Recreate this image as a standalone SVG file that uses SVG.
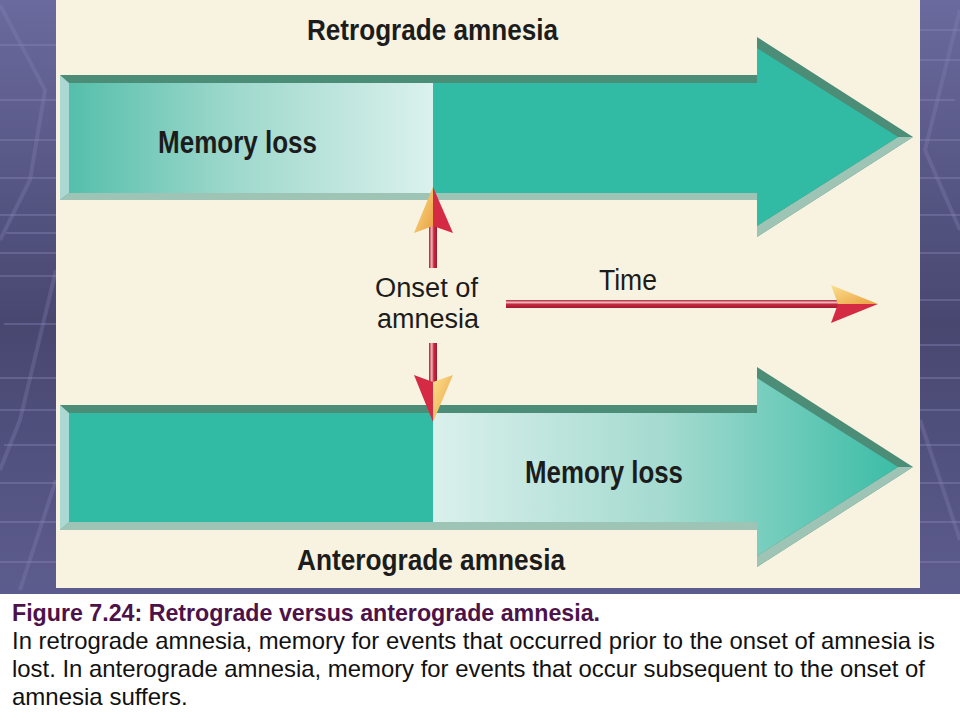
<svg xmlns="http://www.w3.org/2000/svg" width="960" height="720" viewBox="0 0 960 720">
  <defs>
    <style>
      .lbl { font-family: "Liberation Sans", Arial, sans-serif; fill: #1c1c1c; }
      .b { font-weight: bold; }
      .cap { font-family: "Liberation Sans", Arial, sans-serif; font-size: 24px; fill: #111; }
      .bevd { fill: #4b8d77; }
      .bevl { fill: #9ec4b5; }
      .bevs { fill: #acd8d4; }
      .teal { fill: #32bba4; }
      .pline { stroke: #8a89b8; stroke-width: 1.5; opacity: 0.5; }
      .dline { stroke: #8786b6; stroke-width: 4; opacity: 0.3; fill: none; }
    </style>
    <linearGradient id="bg" x1="0" y1="0" x2="0" y2="1">
      <stop offset="0" stop-color="#6b6a9e"/>
      <stop offset="0.45" stop-color="#474770"/>
      <stop offset="1" stop-color="#67669c"/>
    </linearGradient>
    <linearGradient id="fadeR" gradientUnits="userSpaceOnUse" x1="69" y1="0" x2="433" y2="0">
      <stop offset="0" stop-color="#55bfab"/>
      <stop offset="0.45" stop-color="#9ed8cc"/>
      <stop offset="1" stop-color="#dbf1ed"/>
    </linearGradient>
    <linearGradient id="fadeL" gradientUnits="userSpaceOnUse" x1="433" y1="0" x2="905" y2="0">
      <stop offset="0" stop-color="#daf0ec"/>
      <stop offset="0.5" stop-color="#a3dacf"/>
      <stop offset="1" stop-color="#38bca5"/>
    </linearGradient>
    <linearGradient id="shaftH" x1="0" y1="0" x2="0" y2="1">
      <stop offset="0" stop-color="#a81d32"/>
      <stop offset="0.3" stop-color="#f2b9bd"/>
      <stop offset="0.55" stop-color="#c9283f"/>
      <stop offset="1" stop-color="#9d1a2e"/>
    </linearGradient>
    <linearGradient id="shaftV" x1="0" y1="0" x2="1" y2="0">
      <stop offset="0" stop-color="#a81d32"/>
      <stop offset="0.35" stop-color="#f2b9bd"/>
      <stop offset="0.6" stop-color="#c9283f"/>
      <stop offset="1" stop-color="#9d1a2e"/>
    </linearGradient>
    <linearGradient id="yel" x1="0" y1="0" x2="1" y2="1">
      <stop offset="0" stop-color="#fbe08e"/>
      <stop offset="1" stop-color="#eaa040"/>
    </linearGradient>
  </defs>

  <!-- background -->
  <rect x="0" y="0" width="960" height="720" fill="url(#bg)"/>
  <g id="bg-lines">
    <line class="pline" x1="0" y1="45" x2="56" y2="45"/>
    <line class="pline" x1="0" y1="100" x2="56" y2="100"/>
    <line class="pline" x1="0" y1="140" x2="56" y2="140"/>
    <line class="pline" x1="0" y1="178" x2="56" y2="178"/>
    <line class="pline" x1="0" y1="215" x2="56" y2="215"/>
    <line class="pline" x1="6" y1="233" x2="56" y2="233"/>
    <line class="pline" x1="0" y1="253" x2="56" y2="253"/>
    <line class="pline" x1="0" y1="276" x2="56" y2="276"/>
    <line class="pline" x1="4" y1="324" x2="56" y2="324"/>
    <line class="pline" x1="0" y1="378" x2="56" y2="378"/>
    <line class="pline" x1="0" y1="410" x2="56" y2="410"/>
    <line class="pline" x1="4" y1="445" x2="56" y2="445"/>
    <line class="pline" x1="0" y1="483" x2="56" y2="483"/>
    <line class="pline" x1="0" y1="522" x2="56" y2="522"/>
    <line class="pline" x1="0" y1="562" x2="56" y2="562"/>
    <path class="dline" d="M0 5 L45 90 L30 180 L0 240"/>
    <path class="dline" d="M56 270 L20 420 L0 470"/>
    <path class="dline" d="M56 480 L20 590"/>
    <line class="pline" x1="920" y1="30" x2="960" y2="30"/>
    <line class="pline" x1="920" y1="60" x2="960" y2="60"/>
    <line class="pline" x1="920" y1="100" x2="955" y2="100"/>
    <line class="pline" x1="920" y1="140" x2="960" y2="140"/>
    <line class="pline" x1="920" y1="178" x2="960" y2="178"/>
    <line class="pline" x1="920" y1="215" x2="960" y2="215"/>
    <line class="pline" x1="920" y1="253" x2="960" y2="253"/>
    <line class="pline" x1="920" y1="300" x2="960" y2="300"/>
    <line class="pline" x1="920" y1="345" x2="960" y2="345"/>
    <line class="pline" x1="920" y1="378" x2="960" y2="378"/>
    <line class="pline" x1="920" y1="410" x2="960" y2="410"/>
    <line class="pline" x1="920" y1="445" x2="960" y2="445"/>
    <line class="pline" x1="920" y1="483" x2="960" y2="483"/>
    <line class="pline" x1="920" y1="522" x2="960" y2="522"/>
    <line class="pline" x1="920" y1="562" x2="960" y2="562"/>
    <path class="dline" d="M960 10 L925 150 L960 230"/>
    <path class="dline" d="M920 420 L960 540"/>
  </g>

  <!-- panel -->
  <rect x="56" y="0" width="864" height="588" fill="#f8f3e0"/>
  <!-- caption area -->
  <rect x="0" y="594" width="960" height="126" fill="#ffffff"/>

  <!-- top arrow -->
  <g id="retrograde-arrow">
    <polygon class="bevd" points="60,75 757,75 757,37 913,137 757,237 757,200 60,200"/>
    <polygon class="bevl" points="69,193 757,193 757,226 898,137 913,137 757,237 757,200 60,200"/>
    <polygon class="bevs" points="60,75 69,83 69,193 60,200"/>
    <polygon class="teal" points="69,83 757,83 757,48 898,137 757,226 757,193 69,193"/>
    <rect x="69" y="83" width="364" height="110" fill="url(#fadeR)"/>
  </g>

  <!-- bottom arrow -->
  <g id="anterograde-arrow">
    <polygon class="bevd" points="60,405 757,405 757,367 913,467 757,567 757,530 60,530"/>
    <polygon class="bevl" points="69,522 757,522 757,556 898,467 913,467 757,567 757,530 60,530"/>
    <polygon class="bevs" points="60,405 69,413 69,522 60,530"/>
    <polygon fill="url(#fadeL)" points="69,413 757,413 757,378 898,467 757,556 757,522 69,522"/>
    <rect class="teal" x="69" y="413" width="364" height="109"/>
  </g>

  <!-- labels -->
  <g id="labels">
    <text class="lbl b" x="307" y="40" font-size="30" textLength="251" lengthAdjust="spacingAndGlyphs">Retrograde amnesia</text>
    <text class="lbl b" x="158" y="153" font-size="31" textLength="159" lengthAdjust="spacingAndGlyphs">Memory loss</text>
    <text class="lbl" x="375" y="297" font-size="27" textLength="103" lengthAdjust="spacingAndGlyphs">Onset of</text>
    <text class="lbl" x="377" y="328" font-size="27" textLength="102" lengthAdjust="spacingAndGlyphs">amnesia</text>
    <text class="lbl" x="599" y="290" font-size="29" textLength="58" lengthAdjust="spacingAndGlyphs">Time</text>
    <text class="lbl b" x="525" y="483" font-size="31" textLength="158" lengthAdjust="spacingAndGlyphs">Memory loss</text>
    <text class="lbl b" x="297" y="570" font-size="30" textLength="268" lengthAdjust="spacingAndGlyphs">Anterograde amnesia</text>
  </g>

  <!-- connectors -->
  <g id="connectors">
    <g id="arrow-up">
      <rect x="429" y="224" width="8" height="44" fill="url(#shaftV)"/>
      <polygon points="414,233 433,187 433,226" fill="url(#yel)"/>
      <polygon points="433,187 453,233 433,226" fill="#d42a43"/>
    </g>
    <g id="arrow-down">
      <rect x="429" y="343" width="8" height="40" fill="url(#shaftV)"/>
      <polygon points="414,375 433,382 433,422" fill="#d42a43"/>
      <polygon points="433,382 453,375 433,422" fill="url(#yel)"/>
    </g>
    <g id="arrow-time">
      <rect x="506" y="300" width="334" height="8" fill="url(#shaftH)"/>
      <polygon points="831,285 878,304 838,304" fill="url(#yel)"/>
      <polygon points="838,304 878,304 831,323" fill="#d42a43"/>
    </g>
  </g>

  <!-- caption -->
  <g id="caption">
    <text class="cap" x="12" y="621" font-weight="bold" style="fill:#4d1249" textLength="588" lengthAdjust="spacingAndGlyphs">Figure 7.24: Retrograde versus anterograde amnesia.</text>
    <text class="cap" x="12" y="649" textLength="923" lengthAdjust="spacingAndGlyphs">In retrograde amnesia, memory for events that occurred prior to the onset of amnesia is</text>
    <text class="cap" x="12" y="677" textLength="913" lengthAdjust="spacingAndGlyphs">lost. In anterograde amnesia, memory for events that occur subsequent to the onset of</text>
    <text class="cap" x="12" y="705">amnesia suffers.</text>
  </g>
</svg>
